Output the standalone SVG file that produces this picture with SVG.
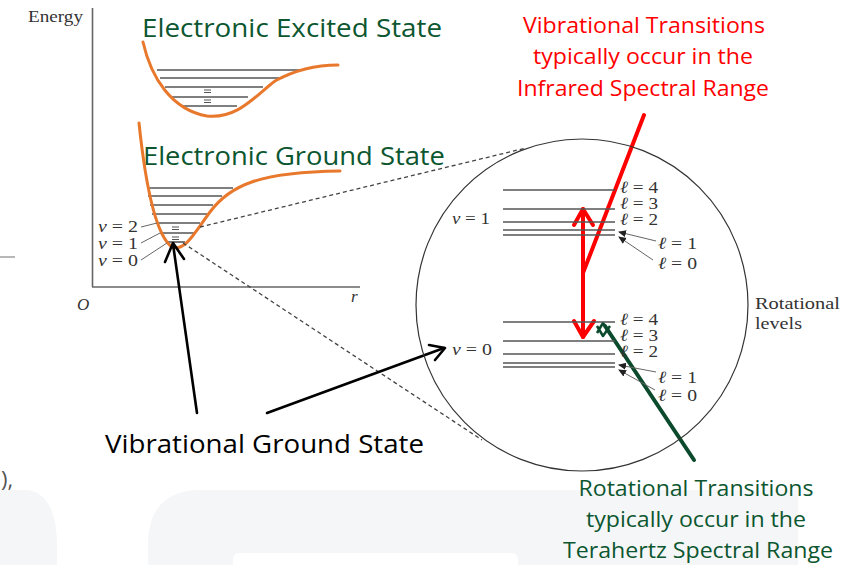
<svg xmlns="http://www.w3.org/2000/svg" width="856" height="565" viewBox="0 0 856 565">
<style>
.bg{fill:#f5f6f8}
.axis{stroke:#666;stroke-width:1.6;fill:none}
.curve{stroke:#E8782C;stroke-width:3;fill:none;stroke-linecap:round}
.lvl{stroke:#555;stroke-width:1.6}
.thin{stroke:#555;stroke-width:1}
.dash{stroke:#444;stroke-width:1.3;stroke-dasharray:4 3;fill:none}
.serif{font-family:"Liberation Serif","DejaVu Serif",serif;fill:#333}
.lbl{font-family:"Liberation Serif","DejaVu Serif",serif;fill:#333;font-size:17px}
.sans{font-family:"Open Sans","Liberation Sans",sans-serif}
.green{fill:#0C5630}
.red{fill:#FF0000}
.redl{stroke:#FF0000;stroke-width:4;fill:none;stroke-linecap:round;stroke-linejoin:round}
.greenl{stroke:#0B4A2C;stroke-width:4;fill:none;stroke-linecap:round;stroke-linejoin:round}
.blk{stroke:#000;stroke-width:2.6;fill:none;stroke-linecap:round;stroke-linejoin:round}
.lead{stroke:#666;stroke-width:1;fill:none}
</style>
<defs>
<marker id="tri" markerWidth="8" markerHeight="8" refX="7" refY="4" orient="auto" markerUnits="userSpaceOnUse">
<path d="M0,0.5 L8,4 L0,7.5 Z" fill="#222"/>
</marker>
</defs>
<rect width="856" height="565" fill="#fff"/>
<g id="background">
<path class="bg" d="M0,490 H25 C45,490 57,510 57,545 V565 H0 Z"/>
<path class="bg" d="M148,565 V545 C148,510 165,490 200,490 H798 V565 Z"/>
<rect x="233" y="553" width="285" height="20" rx="6" fill="#fff"/>
<line x1="0" y1="257" x2="15" y2="257" stroke="#888" stroke-width="1.2"/>
<text x="1" y="487" class="sans" font-size="22" fill="#555">),</text>
</g>
<g id="axes">
<line class="axis" x1="92.5" y1="8" x2="92.5" y2="287"/>
<line class="axis" x1="92" y1="287" x2="360" y2="287"/>
<text class="serif" x="28" y="22" font-size="16" textLength="55" lengthAdjust="spacingAndGlyphs">Energy</text>
<text class="serif" x="77" y="310" font-size="17" font-style="italic">O</text>
<text class="serif" x="351" y="302" font-size="17" font-style="italic">r</text>
</g>
<g id="excited-state">
<g class="lvl">
<line x1="157" y1="70" x2="302" y2="70"/>
<line x1="160" y1="78" x2="283" y2="78"/>
<line x1="165" y1="87" x2="263" y2="87"/>
<line x1="172" y1="97" x2="248" y2="97"/>
<line x1="183" y1="106" x2="237" y2="106"/>
</g>
<g class="thin">
<line x1="204" y1="90" x2="211" y2="90"/><line x1="204" y1="92.5" x2="211" y2="92.5"/>
<line x1="204" y1="100" x2="211" y2="100"/><line x1="204" y1="102.5" x2="211" y2="102.5"/>
</g>
<path class="curve" d="M143,42 C151,78 172,110 207,116 C238,119 255,96 275,81 C295,70 315,65 338,65"/>
<text class="sans green" x="142" y="37" font-size="26" textLength="300" lengthAdjust="spacingAndGlyphs">Electronic Excited State</text>
</g>
<g id="ground-state">
<g class="lvl">
<line x1="148" y1="188" x2="233" y2="188"/>
<line x1="148" y1="196" x2="222" y2="196"/>
<line x1="150" y1="205" x2="213" y2="205"/>
<line x1="152" y1="214" x2="207" y2="214"/>
<line x1="156" y1="223" x2="200" y2="223"/>
<line x1="160" y1="233" x2="195" y2="233"/>
<line x1="166" y1="242" x2="185" y2="242"/>
</g>
<g class="thin">
<line x1="172" y1="227" x2="179" y2="227"/><line x1="172" y1="229.5" x2="179" y2="229.5"/>
<line x1="172" y1="237" x2="179" y2="237"/><line x1="172" y1="239.5" x2="179" y2="239.5"/>
</g>
<path class="curve" d="M139,123 C145,180 155,235 172,247 C185,252 195,232 210,212 C230,185 260,172 340,171"/>
<text class="sans green" x="143" y="165" font-size="26" textLength="302" lengthAdjust="spacingAndGlyphs">Electronic Ground State</text>
<g class="lead">
<line x1="141" y1="227" x2="157" y2="223"/>
<line x1="141" y1="243" x2="160" y2="233"/>
<line x1="141" y1="260" x2="167" y2="243"/>
</g>
<text class="lbl" x="98" y="232" textLength="40" lengthAdjust="spacingAndGlyphs"><tspan font-style="italic">ν</tspan> = 2</text>
<text class="lbl" x="98" y="249" textLength="40" lengthAdjust="spacingAndGlyphs"><tspan font-style="italic">ν</tspan> = 1</text>
<text class="lbl" x="98" y="266" textLength="40" lengthAdjust="spacingAndGlyphs"><tspan font-style="italic">ν</tspan> = 0</text>
</g>
<g id="connectors">
<line class="dash" x1="200" y1="227" x2="526" y2="148"/>
<line class="dash" x1="183" y1="243" x2="482" y2="440"/>
<line class="blk" x1="197" y1="413" x2="173" y2="244"/>
<path class="blk" d="M165,262 L173,243 L184,259"/>
<line class="blk" x1="267" y1="413" x2="444" y2="348"/>
<path class="blk" d="M429,345 L445,348 L435,360"/>
<line class="redl" x1="644" y1="115" x2="583" y2="273"/>
<line class="redl" x1="583" y1="209" x2="583" y2="337"/>
<path class="redl" d="M574,225 L583,209 L593,225"/>
<path class="redl" d="M574,321 L583,337 L594,321"/>
<line class="greenl" x1="694" y1="460" x2="605" y2="326"/>
<path stroke="#0B4A2C" stroke-width="2.5" fill="none" stroke-linejoin="round" d="M597,333 L603,323 L610,333 M597,326 L603,336 L610,326"/>
</g>
<g id="zoom-circle">
<circle cx="582" cy="305" r="166" fill="none" stroke="#333" stroke-width="1.2"/>
<g class="lvl">
<line x1="503" y1="190" x2="615" y2="190"/>
<line x1="503" y1="209" x2="615" y2="209"/>
<line x1="503" y1="222" x2="615" y2="222"/>
<line x1="503" y1="230" x2="615" y2="230"/>
<line x1="503" y1="235" x2="615" y2="235"/>
<line x1="503" y1="322" x2="615" y2="322"/>
<line x1="503" y1="341" x2="615" y2="341"/>
<line x1="503" y1="354" x2="615" y2="354"/>
<line x1="503" y1="363" x2="615" y2="363"/>
<line x1="503" y1="367" x2="615" y2="367"/>
</g>
<text class="lbl" x="452" y="224" textLength="38" lengthAdjust="spacingAndGlyphs"><tspan font-style="italic">ν</tspan> = 1</text>
<text class="lbl" x="452" y="355" textLength="40" lengthAdjust="spacingAndGlyphs"><tspan font-style="italic">ν</tspan> = 0</text>
<text class="lbl" x="620" y="193" textLength="38" lengthAdjust="spacingAndGlyphs"><tspan font-style="italic">ℓ</tspan> = 4</text>
<text class="lbl" x="620" y="209" textLength="38" lengthAdjust="spacingAndGlyphs"><tspan font-style="italic">ℓ</tspan> = 3</text>
<text class="lbl" x="620" y="225" textLength="38" lengthAdjust="spacingAndGlyphs"><tspan font-style="italic">ℓ</tspan> = 2</text>
<text class="lbl" x="658" y="249" textLength="39" lengthAdjust="spacingAndGlyphs"><tspan font-style="italic">ℓ</tspan> = 1</text>
<text class="lbl" x="658" y="269" textLength="39" lengthAdjust="spacingAndGlyphs"><tspan font-style="italic">ℓ</tspan> = 0</text>
<text class="lbl" x="620" y="325" textLength="38" lengthAdjust="spacingAndGlyphs"><tspan font-style="italic">ℓ</tspan> = 4</text>
<text class="lbl" x="620" y="341" textLength="38" lengthAdjust="spacingAndGlyphs"><tspan font-style="italic">ℓ</tspan> = 3</text>
<text class="lbl" x="620" y="357" textLength="38" lengthAdjust="spacingAndGlyphs"><tspan font-style="italic">ℓ</tspan> = 2</text>
<text class="lbl" x="658" y="383" textLength="39" lengthAdjust="spacingAndGlyphs"><tspan font-style="italic">ℓ</tspan> = 1</text>
<text class="lbl" x="658" y="401" textLength="39" lengthAdjust="spacingAndGlyphs"><tspan font-style="italic">ℓ</tspan> = 0</text>
<g class="lead">
<line x1="656" y1="241" x2="619" y2="232" marker-end="url(#tri)"/>
<line x1="653" y1="260" x2="619" y2="237" marker-end="url(#tri)"/>
<line x1="656" y1="372" x2="619" y2="365" marker-end="url(#tri)"/>
<line x1="655" y1="390" x2="619" y2="370" marker-end="url(#tri)"/>
</g>
<text class="lbl" x="755" y="309" font-size="19" textLength="85" lengthAdjust="spacingAndGlyphs">Rotational</text>
<text class="lbl" x="755" y="329" font-size="19" textLength="47" lengthAdjust="spacingAndGlyphs">levels</text>
</g>
<g id="label-vibrational-ground">
<text class="sans" x="105" y="453" font-size="25" fill="#000" textLength="319" lengthAdjust="spacingAndGlyphs">Vibrational Ground State</text>
</g>
<g id="label-vibrational-transitions" class="sans red" font-size="22" text-anchor="middle">
<text x="644" y="33" textLength="242" lengthAdjust="spacingAndGlyphs">Vibrational Transitions</text>
<text x="643" y="64" textLength="220" lengthAdjust="spacingAndGlyphs">typically occur in the</text>
<text x="643" y="96" textLength="252" lengthAdjust="spacingAndGlyphs">Infrared Spectral Range</text>
</g>
<g id="label-rotational-transitions" class="sans green" font-size="22" text-anchor="middle">
<text x="696" y="496" textLength="235" lengthAdjust="spacingAndGlyphs">Rotational Transitions</text>
<text x="696" y="527" textLength="220" lengthAdjust="spacingAndGlyphs">typically occur in the</text>
<text x="698" y="558" textLength="270" lengthAdjust="spacingAndGlyphs">Terahertz Spectral Range</text>
</g>
</svg>
